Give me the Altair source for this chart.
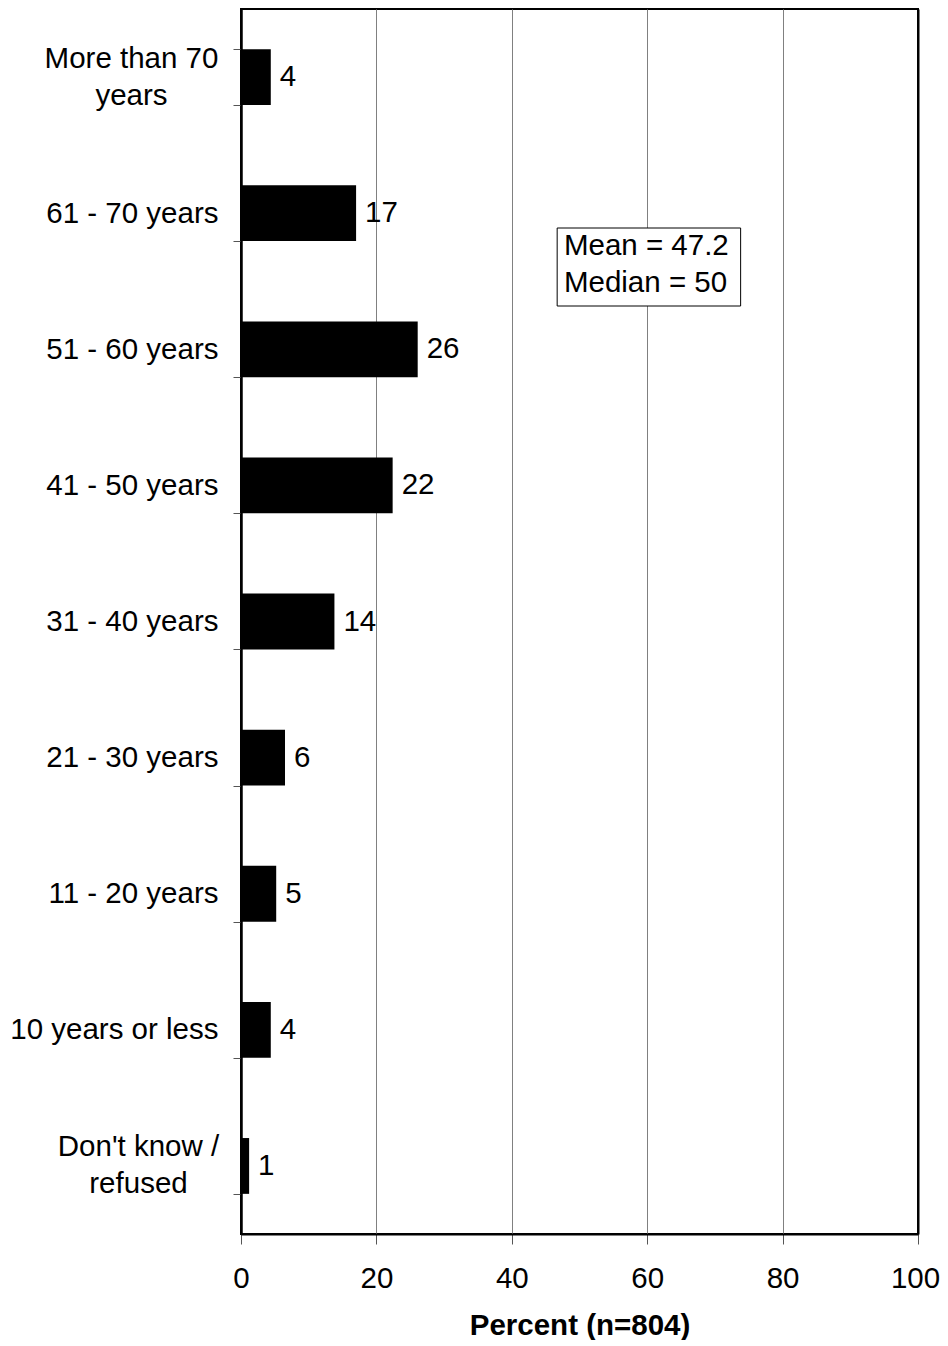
import altair as alt
import pandas as pd

categories = ["More than 70 years", "61 - 70 years", "51 - 60 years", "41 - 50 years",
              "31 - 40 years", "21 - 30 years", "11 - 20 years", "10 years or less",
              "Don't know / refused"]
values = [4.4, 17.0, 26.1, 22.4, 13.8, 6.5, 5.2, 4.4, 1.2]
labels = ["4", "17", "26", "22", "14", "6", "5", "4", "1"]
x_ticks = [0, 20, 40, 60, 80, 100]
note_lines = ["Mean = 47.2", "Median = 50"]
note_x = [46.7, 73.8]
note_text_x = 47.7

df = pd.DataFrame({"cat": categories, "val": values, "lab": labels})
FONT = "Liberation Sans"

T1 = "datum.value == 'More than 70 years'"
T2 = "datum.value == \"Don't know / refused\""
TWO = T1 + " || " + T2

y_enc = alt.Y("cat:N", sort=categories, title=None,
              scale=alt.Scale(paddingInner=0.59, paddingOuter=0.295),
              axis=alt.Axis(tickBand="extent", labelFontSize=29.5, labelFont=FONT,
                            labelColor="black", tickColor="#555", tickSize=8,
                            domainColor="black", domainWidth=2,
                            labelLineHeight=37, labelLimit=300,
                            labelAlign={"condition": {"test": TWO, "value": "center"}, "value": "right"},
                            labelPadding={"condition": [{"test": T1, "value": 102},
                                                        {"test": T2, "value": 95}], "value": 15},
                            labelOffset={"condition": {"test": TWO, "value": -19}, "value": 0},
                            labelExpr="datum.label == 'More than 70 years' ? ['More than 70', 'years'] : datum.label == \"Don't know / refused\" ? [\"Don't know /\", 'refused'] : datum.label"))
x_enc = alt.X("val:Q", title="Percent (n=804)",
              scale=alt.Scale(domain=[0, 100], nice=False),
              axis=alt.Axis(values=x_ticks, labelFontSize=29.5, labelFont=FONT,
                            labelColor="black", tickColor="#555", tickSize=10,
                            labelPadding=20, labelFlush=False,
                            labelOffset={"condition": {"test": "datum.value == 100", "value": -3}, "value": 0},
                            domainColor="black", domainWidth=2,
                            grid=True,
                            gridColor={"condition": {"test": "datum.value == 0 || datum.value == 100", "value": "black"}, "value": "#808080"},
                            gridWidth={"condition": {"test": "datum.value == 0 || datum.value == 100", "value": 2}, "value": 1},
                            titleFontSize=29.5, titleFont=FONT, titleFontWeight="bold",
                            titleColor="black", titlePadding=19))

bars = alt.Chart(df).mark_bar(color="black").encode(x=x_enc, y=y_enc)
text = alt.Chart(df).mark_text(align="left", baseline="middle", dx=9, fontSize=29.5,
                               font=FONT, color="black").encode(
    x="val:Q", y=alt.Y("cat:N", sort=categories), text="lab:N")

box_df = pd.DataFrame({"x1": [note_x[0]], "x2": [note_x[1]]})
box = alt.Chart(box_df).mark_rect(fill="white", stroke="black", strokeWidth=1).encode(
    x="x1:Q", x2="x2:Q", y=alt.value(219), y2=alt.value(297))
note_df = pd.DataFrame({"t": note_lines, "x": [note_text_x] * 2, "yp": [237, 274]})
note = alt.Chart(note_df).mark_text(align="left", baseline="middle", fontSize=29.5,
                                     font=FONT, color="black").encode(
    x="x:Q", y=alt.Y("yp:Q", scale=None), text="t:N")

chart = alt.layer(bars, text, box, note).properties(
    width=677, height=1225,
    background="white",
    autosize=alt.AutoSizeParams(type="none"),
    padding={"left": 233, "top": 1, "right": 22, "bottom": 106},
).configure_view(stroke="black", strokeWidth=2)

chart.save("out.html", embed_options={"renderer": "svg", "actions": False})
